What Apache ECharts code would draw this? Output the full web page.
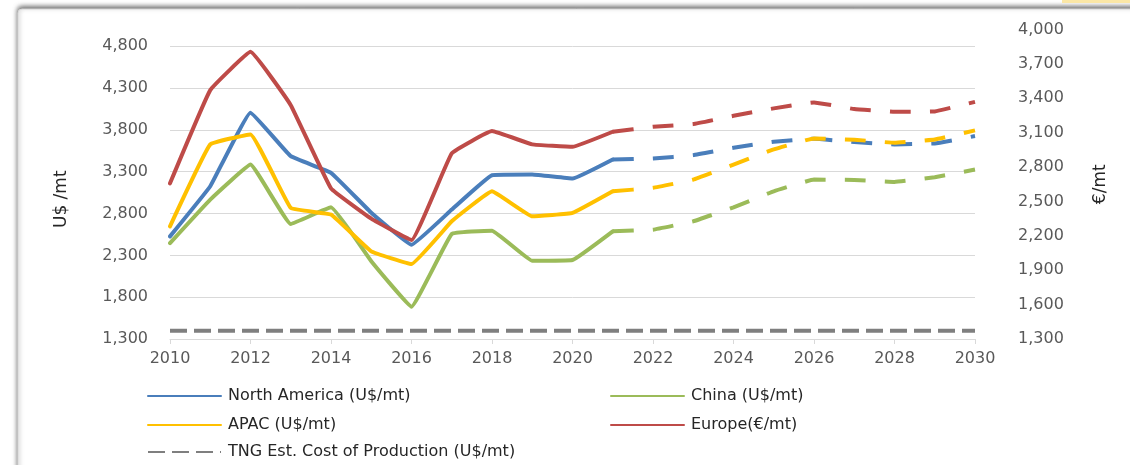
<!DOCTYPE html>
<html>
<head>
<meta charset="utf-8">
<script src="https://cdn.jsdelivr.net/npm/echarts@6/dist/echarts.min.js"></script>
<style>
html,body{margin:0;padding:0;background:#fff;}
#chart{width:1130px;height:465px;}
</style>
</head>
<body>
<div id="chart"></div>
<script>
const years = ['2010','2011','2012','2013','2014','2015','2016','2017','2018','2019','2020',
               '2021','2022','2023','2024','2025','2026','2027','2028','2029','2030'];
// Historical (2010-2021) and forecast (2021-2030) values
const northAmericaHist = [2527, 3126, 4006, 3486, 3287, 2810, 2427, 2847, 3258, 3266, 3218, 3446];
const northAmericaFcst = [3446, 3458, 3498, 3586, 3658, 3694, 3654, 3626, 3638, 3726];
const chinaHist = [2447, 2967, 3386, 2675, 2874, 2230, 1687, 2555, 2595, 2235, 2244, 2587];
const chinaFcst = [2587, 2607, 2707, 2874, 3066, 3206, 3202, 3178, 3234, 3326];
const apacHist = [2647, 3626, 3746, 2867, 2787, 2347, 2196, 2707, 3066, 2766, 2807, 3066];
const apacFcst = [3066, 3107, 3206, 3386, 3566, 3698, 3682, 3646, 3686, 3794];
const europeHist = [2658, 3471, 3805, 3340, 2614, 2350, 2163, 2919, 3114, 2998, 2977, 3108];
const europeFcst = [3108, 3151, 3175, 3247, 3312, 3364, 3306, 3282, 3285, 3369];
const tngCost = [1400, 1400, 1400, 1400, 1400, 1400, 1400, 1400, 1400, 1400, 1400,
                 1400, 1400, 1400, 1400, 1400, 1400, 1400, 1400, 1400, 1400];

const leftTicks = {min: 1300, max: 5000, interval: 500};
const rightTicks = {min: 1300, max: 4000, interval: 300};

const names = {
  na: 'North America (U$/mt)',
  china: 'China (U$/mt)',
  apac: 'APAC (U$/mt)',
  europe: 'Europe(€/mt)',
  tng: 'TNG Est. Cost of Production (U$/mt)'
};
const colors = {na: '#4a7ebb', china: '#9bbb59', apac: '#ffc000', europe: '#be4b48', tng: '#7f7f7f'};

const histIdx = years.indexOf('2021');
function hist(arr){ return years.map((y,i)=> i < arr.length ? arr[i] : null); }
function fcst(arr){ return years.map((y,i)=> i >= histIdx ? arr[i-histIdx] : null); }

const FONT = 'DejaVu Sans';
const fmt = v => v.toLocaleString('en-US');

function solid(name, key, data, yIdx){
  return {name: name, type: 'line', data: hist(data), yAxisIndex: yIdx, symbol: 'none',
    smooth: 0.08, connectNulls: false, color: colors[key],
    lineStyle: {width: 4, color: colors[key], cap: 'round', join: 'round'}};
}
function dashed(name, key, data, yIdx){
  return {name: name, type: 'line', data: fcst(data), yAxisIndex: yIdx, symbol: 'none',
    smooth: 0.08, color: colors[key],
    lineStyle: {width: 4, color: colors[key], type: [21, 19], cap: 'butt'}};
}

function legendAt(name, left, top){
  return {data: [name], left: left, top: top, orient: 'horizontal', itemWidth: 73, itemHeight: 4,
    selectedMode: false, itemStyle: {opacity: 0},
    textStyle: {fontFamily: FONT, fontSize: 16, color: '#262626', padding: [0,0,0,2]}};
}

const chart = echarts.init(document.getElementById('chart'), null, {renderer: 'canvas'});
chart.setOption({
  animation: false,
  backgroundColor: '#fff',
  graphic: [
    {type: 'rect', z: -10, shape: {x: 18, y: 9, width: 1200, height: 520, r: 4},
      style: {fill: '#fff', stroke: '#d8d8d8', lineWidth: 1,
        shadowColor: 'rgba(0,0,0,0.6)', shadowBlur: 5, shadowOffsetY: -2}},
    {type: 'rect', z: -5, shape: {x: 1062, y: 0, width: 68, height: 3},
      style: {fill: '#fbe7a6'}}
  ],
  grid: {left: 170, right: 155, top: 29.5, bottom: 126},
  legend: [
    legendAt(names.na, 142, 383),
    legendAt(names.china, 605, 383),
    legendAt(names.apac, 142, 412),
    legendAt(names.europe, 605, 412),
    legendAt(names.tng, 142, 439)
  ],
  xAxis: {
    type: 'category', data: years, boundaryGap: false,
    axisLine: {show: true, lineStyle: {color: '#d9d9d9', width: 1}},
    axisTick: {show: true, interval: 1, length: 5, lineStyle: {color: '#d9d9d9'}},
    axisLabel: {interval: 1, margin: 12, fontFamily: FONT, fontSize: 16, color: '#595959'},
    splitLine: {show: false}
  },
  yAxis: [
    {type: 'value', position: 'left', min: leftTicks.min, max: leftTicks.max, interval: leftTicks.interval,
      name: 'U$ /mt', nameLocation: 'middle', nameGap: 100, nameRotate: 90,
      nameTextStyle: {fontFamily: FONT, fontSize: 17, color: '#262626', padding: [0, 30, 0, 0]},
      axisLine: {show: false}, axisTick: {show: false},
      axisLabel: {formatter: fmt, margin: 22, showMaxLabel: false, fontFamily: FONT, fontSize: 16, color: '#595959'},
      splitLine: {show: true, showMinLine: false, showMaxLine: false, lineStyle: {color: '#d9d9d9', width: 1}}},
    {type: 'value', position: 'right', min: rightTicks.min, max: rightTicks.max, interval: rightTicks.interval,
      name: '€/mt', nameLocation: 'middle', nameGap: 117, nameRotate: 90,
      nameTextStyle: {fontFamily: FONT, fontSize: 17, color: '#262626'},
      axisLine: {show: false}, axisTick: {show: false},
      axisLabel: {formatter: fmt, margin: 43, fontFamily: FONT, fontSize: 16, color: '#595959'},
      splitLine: {show: false}}
  ],
  series: [
    solid(names.na, 'na', northAmericaHist, 0),
    dashed('North America forecast', 'na', northAmericaFcst, 0),
    solid(names.china, 'china', chinaHist, 0),
    dashed('China forecast', 'china', chinaFcst, 0),
    solid(names.apac, 'apac', apacHist, 0),
    dashed('APAC forecast', 'apac', apacFcst, 0),
    solid(names.europe, 'europe', europeHist, 1),
    dashed('Europe forecast', 'europe', europeFcst, 1),
    {name: names.tng, type: 'line', data: tngCost, yAxisIndex: 0, symbol: 'none', color: colors.tng,
      lineStyle: {width: 4, color: colors.tng, type: [17, 7]}}
  ]
});
</script>
</body>
</html>
